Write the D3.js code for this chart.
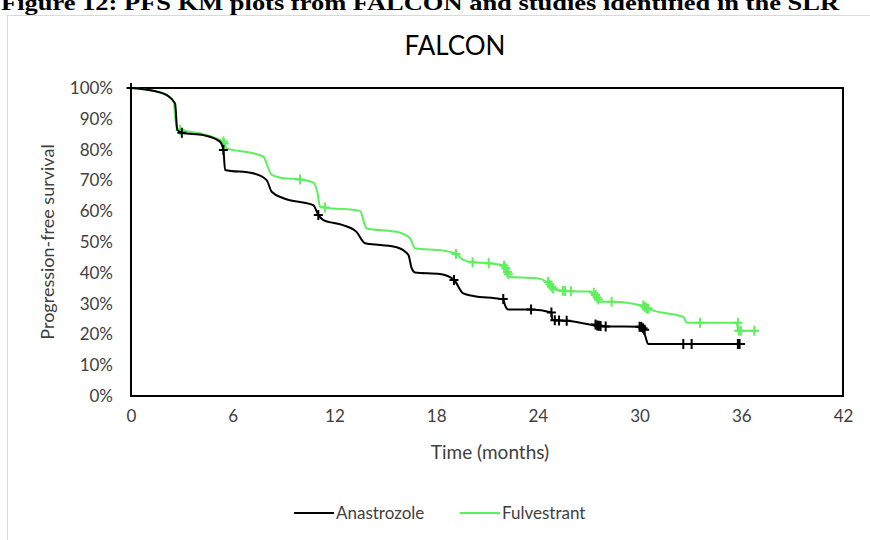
<!DOCTYPE html>
<html>
<head>
<meta charset="utf-8">
<script src="https://cdn.jsdelivr.net/npm/d3@7"></script>
<style>
  body { margin: 0; background: #fff; }
  svg { display: block; }
  .tick text { font-family: Lato, "Open Sans", sans-serif; fill: #404040; }
</style>
</head>
<body>
<div id="container"></div>
<script>
/* DATA: Kaplan-Meier points, [months, % surviving] */
const xTicks = [0, 6, 12, 18, 24, 30, 36, 42];
const yTicks = [0, 10, 20, 30, 40, 50, 60, 70, 80, 90, 100];

const anastrozole = [
  [0,100],[1.3,99.1],[2.1,97.7],[2.6,95],[2.73,86.4],[3.0,85.5],[4.27,84.7],[5.25,82.6],
  [5.45,79.9],[5.55,73.4],[7.2,72.3],[8.0,70.1],[8.3,66.3],[9.0,64.2],[10.75,62],[11.05,58.8],
  [11.35,57.1],[12.5,55.5],[13.3,53.3],[13.8,49.6],[14.7,49],[15.67,48.3],[16.36,45.8],
  [16.56,41.4],[16.75,40.1],[18.23,39.6],[19.05,37.7],[19.6,33.3],[20.2,32.5],[21.77,31.5],
  [21.96,31.3],[22.06,29.5],[22.26,28.1],[23.6,28.1],[24.8,27.1],[24.85,24.7],[25.7,24.4],
  [27.47,22.9],[28.0,22.6],[30.0,22.5],[30.32,19.8],[30.5,16.9],[36.22,16.9]
];
const anastrozoleCensored = [
  [0,100],[3.0,85.5],[5.45,79.9],[11.05,58.8],[19.05,37.7],[21.96,31.5],[23.6,28.1],
  [24.8,27.1],[25.0,24.6],[25.25,24.5],[25.7,24.4],[27.4,23.2],[27.5,22.9],[27.6,22.8],
  [27.7,22.7],[28.0,22.6],[30.0,22.5],[30.1,22.4],[30.2,22.0],[30.3,21.5],[32.58,16.9],
  [33.07,16.9],[35.8,16.9],[35.85,16.9],[35.9,16.9]
];

const fulvestrant = [
  [0,100],[1.9,98.3],[2.5,95.6],[2.7,86.9],[2.9,86.4],[4.07,85.3],[5.05,83.6],[5.45,82.6],
  [5.65,80.4],[7.2,78.8],[7.8,77.7],[8.3,71.8],[9.0,70.7],[9.97,70.3],[10.75,69.3],[11.0,66],
  [11.15,61.5],[11.44,61.2],[13.5,60.1],[13.8,55.5],[13.9,54.4],[15.67,53.3],[16.46,51.2],
  [16.75,48],[18.42,47.2],[19.17,46.1],[19.6,44.2],[20.15,43.4],[21.1,43.1],[22.0,42.3],
  [22.26,38.7],[23.93,38.2],[24.5,37.1],[24.9,35],[25.1,34.4],[25.95,34.0],[27.1,33.9],
  [27.57,30.6],[28.35,30.6],[30.22,29.2],[30.5,28.3],[32.4,26],[32.58,25.7],[32.78,23.8],
  [35.73,23.8],[35.82,21.2],[37.0,21.2]
];
const fulvestrantCensored = [
  [2.9,86.4],[5.45,82.6],[5.5,82],[9.97,70.3],[11.44,61.2],[19.17,46.1],[20.15,43.4],
  [21.1,43.1],[22.0,42.3],[22.1,41.5],[22.2,40.3],[22.26,39.5],[24.6,37],[24.7,36.2],
  [24.8,35.5],[24.9,35],[25.47,34.2],[25.6,34.1],[25.95,34],[27.3,33.5],[27.4,32.8],
  [27.5,32],[27.57,31.3],[28.35,30.6],[30.22,29.4],[30.3,29],[30.4,28.6],[30.5,28.3],
  [33.56,23.8],[35.8,23.8],[35.85,21.2],[35.97,21.2],[36.77,21.2]
];

const seriesNames = ["Anastrozole", "Fulvestrant"];
const seriesColors = ["#000000", "#5eee5e"];

/* CONSTANTS */
const width = 870;
const height = 540;
const font = 'Lato, "Open Sans", sans-serif';

const svg = d3.select("#container")
  .append("svg")
  .attr("width", width)
  .attr("height", height);

// caption of the document, cut at the top edge
svg.append("text")
  .attr("x", 1)
  .attr("y", 10)
  .attr("font-family", '"Liberation Serif", "Times New Roman", serif')
  .attr("font-weight", "bold")
  .attr("font-size", 22)
  .attr("textLength", 838)
  .attr("lengthAdjust", "spacingAndGlyphs")
  .text("Figure 12: PFS KM plots from FALCON and studies identified in the SLR");

// chart area frame
svg.append("rect")
  .attr("x", 7.5)
  .attr("y", 15.5)
  .attr("width", 900)
  .attr("height", 600)
  .attr("fill", "#fff")
  .attr("stroke", "#d9d9d9")
  .attr("stroke-width", 1);

/* SCALES */
const xScale = d3.scaleLinear().domain([0, 42]).range([131, 843]);
const yScale = d3.scaleLinear().domain([0, 100]).range([396, 88]);

/* AXES */
svg.append("g")
  .attr("transform", `translate(0, ${yScale(0)})`)
  .call(d3.axisBottom(xScale).tickValues(xTicks).tickSize(0).tickPadding(14))
  .call(g => g.select(".domain").remove())
  .selectAll("text").attr("font-size", 17);

svg.append("g")
  .attr("transform", `translate(${xScale(0)}, 0)`)
  .call(d3.axisLeft(yScale).tickValues(yTicks).tickSize(0).tickPadding(18).tickFormat(d => d + "%"))
  .call(g => g.select(".domain").remove())
  .selectAll("text").attr("font-size", 17);

// plot box
svg.append("rect")
  .attr("x", xScale(0))
  .attr("y", yScale(100))
  .attr("width", xScale(42) - xScale(0))
  .attr("height", yScale(0) - yScale(100))
  .attr("fill", "none")
  .attr("stroke", "#000")
  .attr("stroke-width", 2);

/* LINES */
const line = d3.line()
  .x(d => xScale(d[0]))
  .y(d => yScale(d[1]))
  .curve(d3.curveMonotoneX);

const plus = (d) => {
  const x = xScale(d[0]), y = yScale(d[1]);
  return `M${x - 4.5},${y}H${x + 4.5}M${x},${y - 5}V${y + 5}`;
};

const curves = [
  { line: anastrozole, cens: anastrozoleCensored },
  { line: fulvestrant, cens: fulvestrantCensored }
];

// green drawn after black so it sits on top
[1, 0].forEach(i => {
  const g = svg.append("g");
  g.append("path")
    .datum(curves[i].line)
    .attr("fill", "none")
    .attr("stroke", seriesColors[i])
    .attr("stroke-width", 2)
    .attr("d", line);
  g.selectAll("path.cens")
    .data(curves[i].cens)
    .join("path")
      .attr("class", "cens")
      .attr("stroke", seriesColors[i])
      .attr("stroke-width", 2)
      .attr("d", plus);
});

/* TEXTS */
svg.append("text")
  .attr("x", 455)
  .attr("y", 55)
  .attr("text-anchor", "middle")
  .attr("font-family", font)
  .attr("font-size", 26)
  .attr("fill", "#000")
  .text("FALCON");

svg.append("text")
  .attr("x", 490)
  .attr("y", 459)
  .attr("text-anchor", "middle")
  .attr("font-family", font)
  .attr("font-size", 19)
  .attr("fill", "#404040")
  .text("Time (months)");

svg.append("text")
  .attr("transform", "translate(54, 242) rotate(-90)")
  .attr("text-anchor", "middle")
  .attr("font-family", font)
  .attr("font-size", 18)
  .attr("fill", "#404040")
  .text("Progression-free survival");

/* LEGEND */
const legendX = [294, 460];
seriesNames.forEach((name, i) => {
  const lg = svg.append("g").attr("transform", `translate(${legendX[i]}, 513)`);
  lg.append("line")
    .attr("x1", 0).attr("x2", 40)
    .attr("stroke", seriesColors[i])
    .attr("stroke-width", 2);
  lg.append("text")
    .attr("x", 42)
    .attr("y", 6)
    .attr("font-family", font)
    .attr("font-size", 17)
    .attr("fill", "#404040")
    .text(name);
});
</script>
</body>
</html>
